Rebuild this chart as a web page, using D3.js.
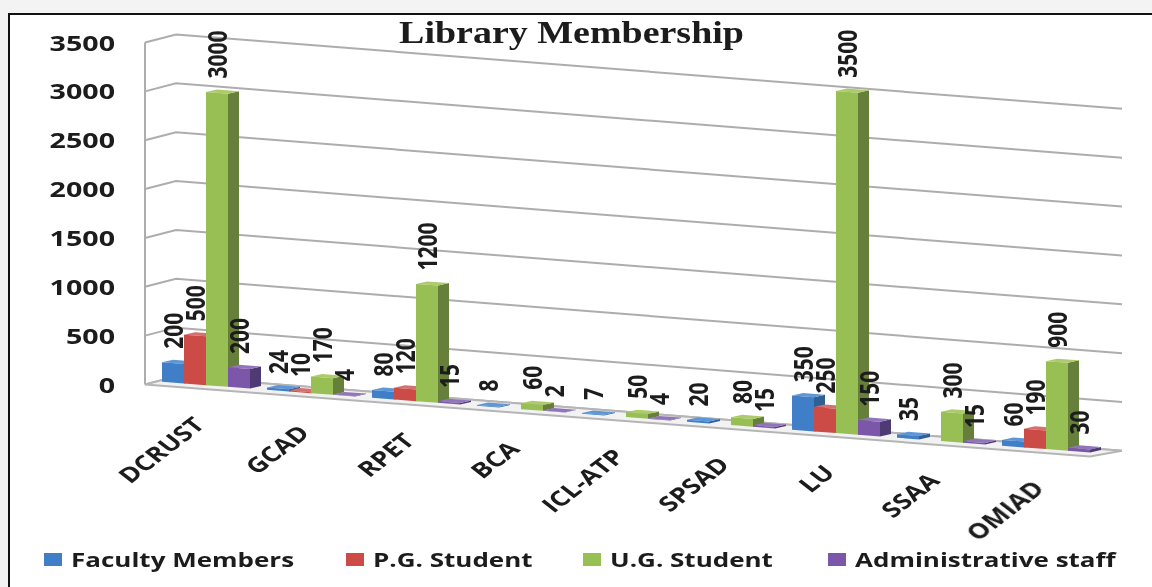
<!DOCTYPE html>
<html>
<head>
<meta charset="utf-8">
<script src="https://d3js.org/d3.v7.min.js"></script>
<style>
html, body { margin: 0; padding: 0; background: #f3f3f3; overflow: hidden; }
text { font-family: "Open Sans", sans-serif; fill: #1a1a1a; font-weight: 700; }
</style>
</head>
<body>
<script>
var categories = ["DCRUST", "GCAD", "RPET", "BCA", "ICL-ATP", "SPSAD", "LU", "SSAA", "OMIAD"];
var seriesNames = ["Faculty Members", "P.G. Student", "U.G. Student", "Administrative staff"];
var faculty = [200, 24, 80, 8, 7, 20, 350, 35, 60];
var pgStudent = [500, 10, 120, 0, 0, 0, 250, 0, 190];
var ugStudent = [3000, 170, 1200, 60, 50, 80, 3500, 300, 900];
var adminStaff = [200, 4, 15, 2, 4, 15, 150, 15, 30];
// what is printed over each bar; null where the picture prints nothing
var facultyLabels = ["200", "24", "80", "8", "7", "20", "350", "35", "60"];
var pgLabels = ["500", "10", "120", null, null, null, "250", null, "190"];
var ugLabels = ["3000", "170", "1200", "60", "50", "80", "3500", "300", "900"];
var adminLabels = ["200", "4", "15", "2", "4", "15", "150", "15", "30"];
var yTicks = [0, 500, 1000, 1500, 2000, 2500, 3000, 3500];
var colors = ["#3f7fc8", "#cc4b47", "#98bf52", "#7c57a8"];
var sideColors = ["#2d5f95", "#8f3a38", "#66803a", "#4f3a73"];
var topColors = ["#5f97d6", "#d4716e", "#aecb6c", "#9174bb"];

var w = 1152, h = 587;
var stretch = 1.3; // the source image is stretched sideways, text too

var svg = d3.select("body").append("svg")
    .attr("width", w)
    .attr("height", h)
    .style("display", "block");

var defs = svg.append("defs");
defs.append("filter").attr("id", "soft")
    .append("feGaussianBlur").attr("stdDeviation", 0.7);

// frame
svg.append("rect")
    .attr("x", 9).attr("y", 14)
    .attr("width", w + 20).attr("height", h + 20)
    .attr("fill", "white")
    .attr("stroke", "#111")
    .attr("stroke-width", 2);

var chart = svg.append("g").attr("filter", "url(#soft)");

// floor slope and depth of the 3D box
var slope = 0.0761;
var depthX = 31, depthY = -8;

var xScale = d3.scaleBand()
    .domain(categories)
    .range([153.5, 1098.5])
    .paddingInner(17 / 105)
    .paddingOuter(8.5 / 105);

var xInner = d3.scaleBand()
    .domain(seriesNames)
    .range([0, xScale.bandwidth()]);

var heightScale = d3.scaleLinear().domain([0, 3500]).range([0, 342]);

function wallY(x) { return 384.5 + (x - 145) * slope; }
function barBase(x) { return 386 + (x - 217) * slope; }

// walls and gridlines
var grid = chart.append("g");
grid.append("path")
    .attr("d", d3.line()([[145, wallY(145)], [145, wallY(145) - heightScale(3500)]]))
    .attr("fill", "none").attr("stroke", "#adadad").attr("stroke-width", 2);
grid.selectAll(".grid-line")
    .data(yTicks)
    .enter()
    .append("path")
    .attr("class", "grid-line")
    .attr("fill", "none")
    .attr("stroke", "#adadad")
    .attr("stroke-width", 2)
    .attr("d", function (d) {
        var hh = heightScale(d);
        return d3.line()([
            [145, wallY(145) - hh],
            [145 + depthX, wallY(145) + depthY - hh],
            [1122, wallY(1122) + depthY - hh]
        ]);
    });

// floor
chart.append("polygon")
    .attr("points", [
        [145, wallY(145)],
        [145 + depthX, wallY(145) + depthY],
        [1122, wallY(1122) + depthY],
        [1090, wallY(1090)]
    ].join(" "))
    .attr("fill", "#f2f2f2")
    .attr("stroke", "#b5b5b5")
    .attr("stroke-width", 2);

// y tick labels
chart.selectAll(".y-label")
    .data(yTicks)
    .enter()
    .append("text")
    .attr("class", "y-label")
    .attr("text-anchor", "end")
    .attr("font-size", 22)
    .attr("transform", function (d) {
        return "translate(115," + (wallY(145) - heightScale(d) + 8) + ") scale(" + stretch + ",1)";
    })
    .text(function (d) { return d; });

// bars
var seriesValues = [faculty, pgStudent, ugStudent, adminStaff];
var seriesLabels = [facultyLabels, pgLabels, ugLabels, adminLabels];
var barDepth = 11, barLift = -2.5;

var bars = [];
categories.forEach(function (c, i) {
    seriesNames.forEach(function (s, j) {
        bars.push({ cat: c, series: j, name: s, value: seriesValues[j][i], label: seriesLabels[j][i] });
    });
});

function face(pts) { return pts.join(" "); }

var barGroups = chart.selectAll(".bar")
    .data(bars.filter(function (d) { return d.value > 0; }))
    .enter()
    .append("g")
    .attr("class", "bar");

barGroups.each(function (d) {
    var x0 = xScale(d.cat) + xInner(d.name);
    var x1 = x0 + xInner.bandwidth();
    var b0 = barBase(x0), b1 = barBase(x1);
    var hh = heightScale(d.value);
    var g = d3.select(this);
    // side
    g.append("polygon")
        .attr("points", face([[x1, b1], [x1 + barDepth, b1 + barLift], [x1 + barDepth, b1 + barLift - hh], [x1, b1 - hh]]))
        .attr("fill", sideColors[d.series]);
    // top
    g.append("polygon")
        .attr("points", face([[x0, b0 - hh], [x1, b1 - hh], [x1 + barDepth, b1 + barLift - hh], [x0 + barDepth, b0 + barLift - hh]]))
        .attr("fill", topColors[d.series]);
    // front
    g.append("polygon")
        .attr("points", face([[x0, b0], [x1, b1], [x1, b1 - hh], [x0, b0 - hh]]))
        .attr("fill", colors[d.series]);
});

// data labels, drawn after every bar
chart.selectAll(".bar-text")
    .data(bars.filter(function (d) { return d.label !== null; }))
    .enter()
    .append("text")
    .attr("class", "bar-text")
    .attr("font-size", 21)
    .attr("transform", function (d) {
        var cx = xScale(d.cat) + xInner(d.name) + xInner.bandwidth() / 2 + 10;
        var y = barBase(cx) - heightScale(d.value) - 15;
        return "translate(" + cx + "," + y + ") scale(" + stretch + ",1) rotate(-90)";
    })
    .text(function (d) { return d.label; });

// category labels
chart.selectAll(".x-label")
    .data(categories)
    .enter()
    .append("text")
    .attr("class", "x-label")
    .attr("text-anchor", "end")
    .attr("font-size", 21)
    .attr("transform", function (d) {
        var x = xScale(d) + 44;
        return "translate(" + x + "," + (barBase(x) + 41) + ") scale(" + stretch + ",1) rotate(-45)";
    })
    .text(function (d) { return d; });

// title
chart.append("text")
    .attr("text-anchor", "middle")
    .attr("font-size", 31)
    .style("font-family", "'Liberation Serif', serif")
    .attr("transform", "translate(571.5,43) scale(1.225,1)")
    .text("Library Membership");

// legend
var legendX = [44, 346, 583, 828];
var legend = chart.selectAll(".legend-item")
    .data(seriesNames)
    .enter()
    .append("g")
    .attr("class", "legend-item")
    .attr("transform", function (d, i) { return "translate(" + legendX[i] + ",553)"; });

legend.append("rect")
    .attr("width", 18)
    .attr("height", 13)
    .attr("fill", function (d, i) { return colors[i]; });

legend.append("text")
    .attr("font-size", 20)
    .attr("transform", "translate(27,14) scale(" + stretch + ",1)")
    .text(function (d) { return d; });
</script>
</body>
</html>
